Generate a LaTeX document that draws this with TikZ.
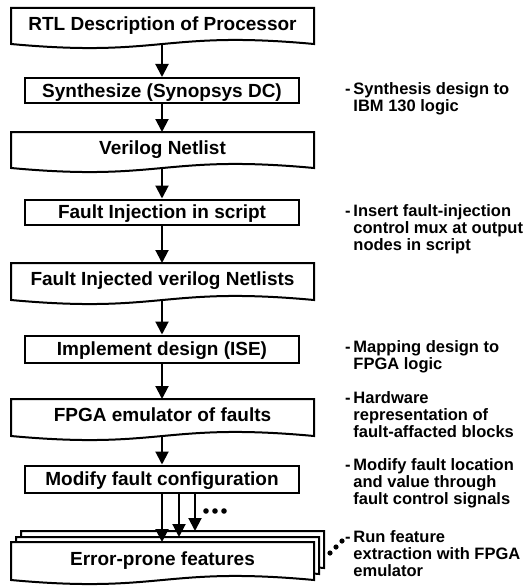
\documentclass[tikz,border=0pt]{standalone}
\usepackage{fontspec}
\setmainfont{Liberation Sans}
\usetikzlibrary{arrows.meta}
\newcommand\mydocshape[4]{%
  \filldraw[docline] (#1,#2) -- (#3,#2) -- (#3,#4)
    .. controls ({(#1+#3)/2},{#4-14}) and ({(#1+#3)/2},{#4+14}) .. (#1,#4) -- cycle;}
\begin{document}
\begin{tikzpicture}[x=1pt,y=-1pt,
  docline/.style={line width=2pt, fill=white, draw=black, line join=miter},
  boxnode/.style={draw, line width=2pt, fill=white, minimum width=274pt, inner sep=0pt,
    font=\fontsize{19}{19}\selectfont\bfseries, text height=13.6pt, text depth=0pt},
  doctext/.style={inner sep=0pt, font=\fontsize{19}{19}\selectfont\bfseries,
    text height=13.6pt, text depth=0pt},
  ann/.style={inner sep=0pt, anchor=base west, font=\fontsize{16.5}{17}\selectfont\bfseries},
  arr/.style={line width=2pt, -{Triangle[width=13pt,length=13pt]}},
  dotmark/.style={fill=black, draw=none}]
\useasboundingbox (0,0) rectangle (529,586);

% RTL description
\mydocshape{11}{8}{314}{44}
\node[doctext] (rtl) at (162.5,23.5) {RTL Description of Processor};
\coordinate (rtlb) at (162,44);

\node[boxnode, minimum height=25pt] (syn) at (162,90.5) {Synthesize (Synopsys DC)};

\mydocshape{11}{132}{314}{168}
\node[doctext] (vnl) at (162.5,147.5) {Verilog Netlist};
\coordinate (vnlt) at (162,132);
\coordinate (vnlb) at (162,168);

\node[boxnode, minimum height=25pt] (fis) at (162,212) {Fault Injection in script};

\mydocshape{11}{263}{314}{300}
\node[doctext] (fin) at (162.5,278.5) {Fault Injected verilog Netlists};
\coordinate (fint) at (162,263);
\coordinate (finb) at (162,300);

\node[boxnode, minimum height=27pt] (imp) at (162,349) {Implement design (ISE)};

\mydocshape{11}{399}{314}{436}
\node[doctext] (fpga) at (162.5,414.5) {FPGA emulator of faults};
\coordinate (fpgat) at (162,399);
\coordinate (fpgab) at (162,436);

\node[boxnode, minimum height=27pt] (mod) at (162,479) {Modify fault configuration};

% stacked documents
\mydocshape{21}{531}{324}{568}
\mydocshape{16}{537}{319}{574}
\mydocshape{11}{542}{314}{580}
\node[doctext] (err) at (162.5,559) {Error-prone features};

% arrows
\draw[arr] (rtlb) -- (syn.north);
\draw[arr] (syn.south) -- (vnlt);
\draw[arr] (vnlb) -- (fis.north);
\draw[arr] (fis.south) -- (fint);
\draw[arr] (finb) -- (imp.north);
\draw[arr] (imp.south) -- (fpgat);
\draw[arr] (fpgab) -- (mod.north);

\coordinate (m1) at (162,492.5);
\coordinate (m2) at (179,492.5);
\coordinate (m3) at (195,492.5);
\coordinate (e1) at (162,542);
\coordinate (e2) at (179,537);
\coordinate (e3) at (195,531);
\draw[arr] (m1) -- (e1);
\draw[arr] (m2) -- (e2);
\draw[arr] (m3) -- (e3);

% dots
\fill[dotmark] (206,511) circle (2.8pt) (215,511) circle (2.8pt) (224,511) circle (2.8pt);
\fill[dotmark] (330,553) circle (2.6pt) (336,547) circle (2.6pt) (342,541) circle (2.6pt);

% annotations
\node[ann] (a1) at (345,94) {\begin{tabular}[t]{@{}l@{}}-\,Synthesis design to\\\hphantom{-\,}IBM 130 logic\end{tabular}};
\node[ann] (a2) at (345,216) {\begin{tabular}[t]{@{}l@{}}-\,Insert fault-injection\\\hphantom{-\,}control mux at output\\\hphantom{-\,}nodes in script\end{tabular}};
\node[ann] (a3) at (345,352) {\begin{tabular}[t]{@{}l@{}}-\,Mapping design to\\\hphantom{-\,}FPGA logic\end{tabular}};
\node[ann] (a4) at (345,403) {\begin{tabular}[t]{@{}l@{}}-\,Hardware\\\hphantom{-\,}representation of\\\hphantom{-\,}fault-affacted blocks\end{tabular}};
\node[ann] (a5) at (345,470) {\begin{tabular}[t]{@{}l@{}}-\,Modify fault location\\\hphantom{-\,}and value through\\\hphantom{-\,}fault control signals\end{tabular}};
\node[ann] (a6) at (345,542) {\begin{tabular}[t]{@{}l@{}}-\,Run feature\\\hphantom{-\,}extraction with FPGA\\\hphantom{-\,}emulator\end{tabular}};
\end{tikzpicture}
\end{document}
